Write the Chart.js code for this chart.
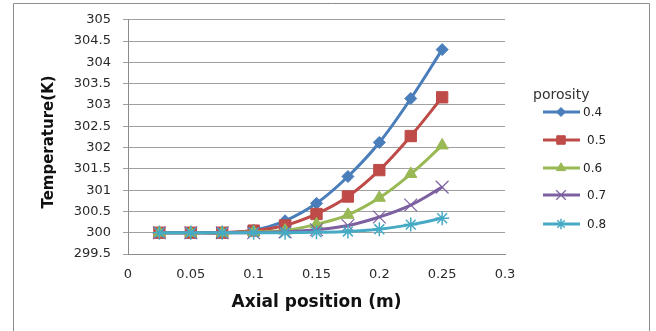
<!DOCTYPE html>
<html>
<head>
<meta charset="utf-8">
<script src="https://cdn.jsdelivr.net/npm/chart.js@4/dist/chart.umd.min.js"></script>
<style>
  html, body { margin: 0; padding: 0; background: #fff; }
  #wrap { width: 656px; height: 331px; }
</style>
</head>
<body>
<div id="wrap"><canvas id="chart" width="656" height="331"></canvas></div>
<script>
// Axial positions along the bed (m)
const positions = [0.025, 0.05, 0.075, 0.1, 0.125, 0.15, 0.175, 0.2, 0.225, 0.25];

// Temperature (K) for each porosity
const porosityLabels = ['0.4', '0.5', '0.6', '0.7', '0.8'];
const temp04 = [300, 300, 300, 300.06, 300.28, 300.69, 301.32, 302.12, 303.15, 304.3];
const temp05 = [300, 300, 300, 300.05, 300.17, 300.44, 300.85, 301.47, 302.27, 303.18];
const temp06 = [300, 300, 300, 300.02, 300.05, 300.2, 300.42, 300.82, 301.38, 302.05];
const temp07 = [300, 300, 300, 300, 300.02, 300.07, 300.17, 300.37, 300.65, 301.07];
const temp08 = [300, 300, 300, 300, 300, 300.01, 300.03, 300.08, 300.19, 300.34];

// Axis ticks
const xTicks = [0, 0.05, 0.1, 0.15, 0.2, 0.25, 0.3];
const yTicks = [299.5, 300, 300.5, 301, 301.5, 302, 302.5, 303, 303.5, 304, 304.5, 305];

const seriesValues = [temp04, temp05, temp06, temp07, temp08];
const colors = ['#4A7EBB', '#BE4B48', '#98B954', '#7D60A0', '#46AAC5'];
const styles = [
  { pointStyle: 'rectRot', radius: 6, bw: 1 },
  { pointStyle: 'rect', radius: 8, bw: 1 },
  { pointStyle: 'triangle', radius: 7, bw: 1 },
  { pointStyle: 'crossRot', radius: 9, bw: 1.2 },
  { pointStyle: 'star', radius: 7, bw: 1.5 }
];

const datasets = seriesValues.map((vals, i) => ({
  label: porosityLabels[i],
  data: vals.map((v, k) => ({ x: positions[k], y: v })),
  borderColor: colors[i],
  backgroundColor: colors[i],
  borderWidth: 3,
  tension: 0.4,
  pointStyle: styles[i].pointStyle,
  pointRadius: styles[i].radius,
  pointBorderWidth: styles[i].bw,
  pointBackgroundColor: colors[i],
  pointBorderColor: colors[i],
  order: seriesValues.length - i
}));

const fmt = v => String(+Number(v).toFixed(2));

// White background plus the outer frame
const framePlugin = {
  id: 'frame',
  beforeDraw(chart) {
    const ctx = chart.ctx;
    ctx.save();
    ctx.fillStyle = '#fff';
    ctx.fillRect(0, 0, chart.width, chart.height);
    ctx.strokeStyle = '#8c8c8c';
    ctx.lineWidth = 1;
    ctx.beginPath();
    ctx.moveTo(13.5, chart.height);
    ctx.lineTo(13.5, 3.5);
    ctx.lineTo(649.5, 3.5);
    ctx.lineTo(649.5, chart.height);
    ctx.stroke();
    ctx.restore();
  }
};

// Vertical axis title, set a little below the plot's middle
const yTitlePlugin = {
  id: 'yTitle',
  afterDraw(chart) {
    const ctx = chart.ctx;
    ctx.save();
    ctx.translate(49.5, 142);
    ctx.rotate(-Math.PI / 2);
    ctx.textAlign = 'center';
    ctx.textBaseline = 'middle';
    ctx.fillStyle = '#111';
    ctx.font = 'bold 15px "DejaVu Sans"';
    ctx.fillText('Temperature(K)', 0, 0);
    ctx.restore();
  }
};

// Legend: title, then a line with its marker for each series
const legendPlugin = {
  id: 'porosityLegend',
  afterDraw(chart) {
    const ctx = chart.ctx;
    const x0 = 533;
    const rows = [112, 140, 168, 195, 224];
    ctx.save();
    ctx.textBaseline = 'middle';
    ctx.textAlign = 'left';
    ctx.fillStyle = '#333';
    ctx.font = '14px "DejaVu Sans"';
    ctx.fillText('porosity', x0, 95);
    chart.data.datasets.forEach((ds, i) => {
      const y = rows[i];
      ctx.strokeStyle = ds.borderColor;
      ctx.fillStyle = ds.backgroundColor;
      ctx.lineWidth = 3;
      ctx.beginPath();
      ctx.moveTo(x0 + 10, y);
      ctx.lineTo(x0 + 47, y);
      ctx.stroke();
      ctx.lineWidth = ds.pointBorderWidth;
      Chart.helpers.drawPoint(ctx, {
        pointStyle: ds.pointStyle,
        radius: ds.pointRadius * 0.75,
        borderWidth: ds.pointBorderWidth,
        rotation: 0
      }, x0 + 28, y);
      ctx.fillStyle = '#222';
      ctx.font = '12px "DejaVu Sans"';
      ctx.fillText(ds.label, x0 + 50 + (i % 2 === 1 || i === 4 ? 4 : 0), y + 1);
    });
    ctx.restore();
  }
};

new Chart(document.getElementById('chart'), {
  type: 'line',
  data: { datasets },
  plugins: [framePlugin, yTitlePlugin, legendPlugin],
  options: {
    responsive: false,
    animation: false,
    layout: { padding: { top: 19.5, right: 151, bottom: 0, left: 0 } },
    plugins: {
      legend: { display: false },
      tooltip: { enabled: false }
    },
    scales: {
      x: {
        type: 'linear',
        min: 0,
        max: 0.3,
        afterBuildTicks: s => { s.ticks = xTicks.map(v => ({ value: v })); },
        afterFit: s => { s.height = 77; },
        grid: { display: false, drawTicks: true, tickLength: 5 },
        border: { display: true, color: '#8c8c8c', width: 1 },
        ticks: {
          padding: 8,
          maxRotation: 0,
          autoSkip: false,
          color: '#2a2a2a',
          font: { family: 'DejaVu Sans', size: 13 },
          callback: v => fmt(v)
        },
        title: {
          display: true,
          text: 'Axial position (m)',
          color: '#111',
          font: { family: 'DejaVu Sans', size: 17, weight: 'bold' },
          padding: { top: 0, bottom: 18 }
        }
      },
      y: {
        type: 'linear',
        min: 299.5,
        max: 305,
        afterBuildTicks: s => { s.ticks = yTicks.map(v => ({ value: v })); },
        afterFit: s => { s.width = 128; },
        grid: { color: '#a0a0a0', lineWidth: 1, drawTicks: true, tickLength: 5 },
        border: { display: true, color: '#8c8c8c', width: 1 },
        ticks: {
          padding: 12,
          autoSkip: false,
          color: '#2a2a2a',
          font: { family: 'DejaVu Sans', size: 13 },
          callback: v => fmt(v)
        },
        title: { display: false }
      }
    }
  }
});
</script>
</body>
</html>
